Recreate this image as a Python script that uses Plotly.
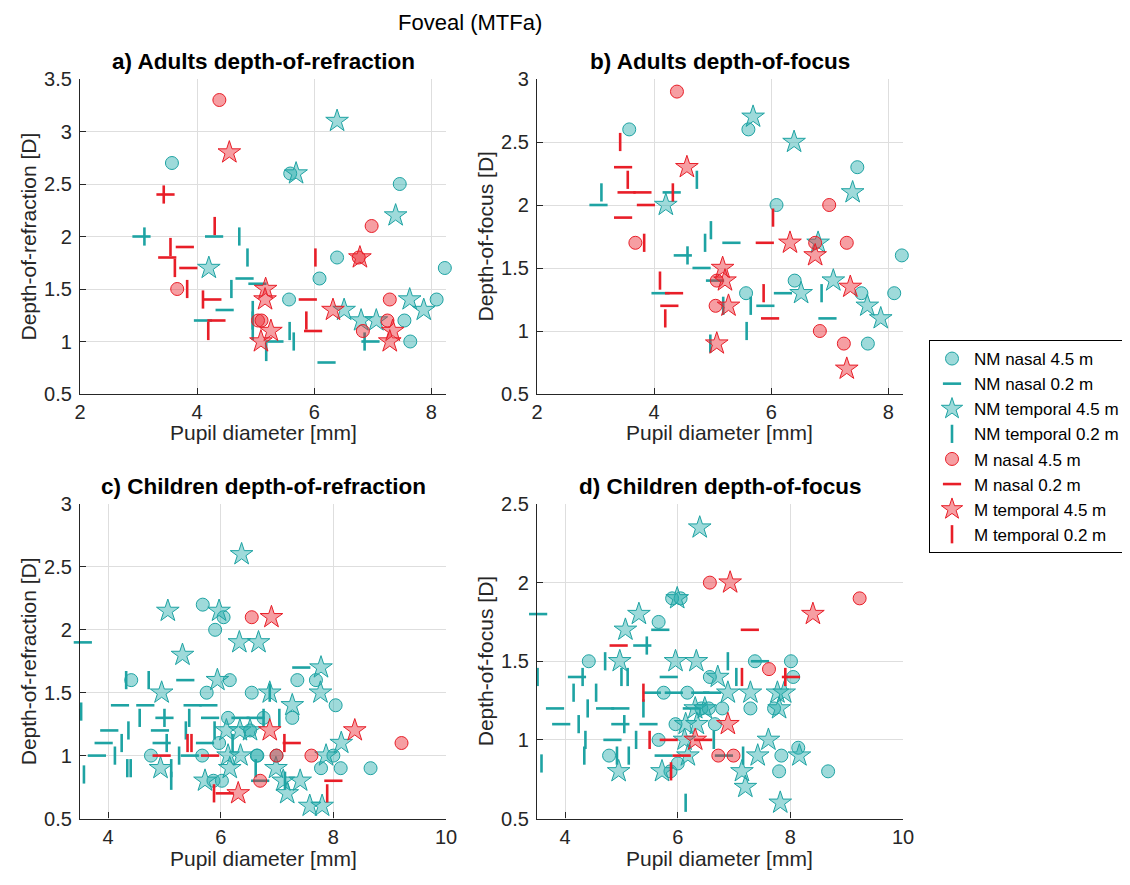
import plotly.graph_objects as go

# ---------------- data (x = pupil diameter [mm], y = depth [D]) ----------------
# Panel a) Adults depth-of-refraction
A_NM_NAS45 = [(3.57, 2.7), (5.59, 2.6), (7.46, 2.5), (6.39, 1.8), (6.09, 1.6), (8.23, 1.7),
              (5.57, 1.4), (8.09, 1.4), (7.54, 1.2), (7.64, 1.0)]
A_NM_NAS02 = [(3.05, 2.0), (4.29, 2.0), (4.81, 1.6), (5.03, 1.55), (4.47, 1.3), (4.10, 1.2),
              (5.32, 1.0), (6.21, 0.8), (6.96, 1.0)]
A_NM_TEM45 = [(6.39, 3.1), (5.69, 2.6), (7.39, 2.2), (4.20, 1.7), (6.51, 1.3), (7.63, 1.4),
              (7.87, 1.3), (6.80, 1.2), (7.06, 1.2)]
A_NM_TEM02 = [(3.10, 2.0), (4.72, 2.0), (4.86, 1.8), (4.585, 1.5), (4.95, 1.3), (4.95, 1.2),
              (4.95, 1.1), (5.18, 0.9), (5.58, 1.1), (5.65, 1.0), (6.86, 1.0)]
A_M_NAS45 = [(4.38, 3.3), (3.66, 1.5), (5.04, 1.2), (5.10, 1.2), (6.98, 2.1), (6.76, 1.8),
             (7.29, 1.4), (7.25, 1.2), (6.83, 1.1)]
A_M_NAS02 = [(3.46, 2.4), (3.79, 1.9), (3.49, 1.8), (3.85, 1.7), (4.26, 1.4), (4.33, 1.2),
             (5.89, 1.4), (5.98, 1.1)]
A_M_TEM45 = [(4.55, 2.8), (6.78, 1.8), (5.17, 1.5), (5.16, 1.4), (6.32, 1.3), (5.26, 1.1),
             (5.09, 1.0), (7.34, 1.1), (7.29, 1.0)]
A_M_TEM02 = [(3.43, 2.4), (4.30, 2.1), (3.545, 1.9), (3.62, 1.7), (3.83, 1.5), (4.10, 1.4),
             (4.19, 1.1), (6.02, 1.8), (5.865, 1.2)]

# Panel b) Adults depth-of-focus
B_NM_NAS45 = [(3.575, 2.6), (5.61, 2.6), (7.47, 2.3), (6.09, 2.0), (8.23, 1.6), (6.40, 1.4),
              (7.54, 1.3), (5.57, 1.3), (8.10, 1.3), (7.65, 0.9)]
B_NM_NAS02 = [(3.05, 2.0), (4.30, 2.1), (4.49, 1.6), (4.81, 1.5), (5.04, 1.4), (4.11, 1.3),
              (5.32, 1.7), (6.20, 1.3), (5.90, 1.2), (6.96, 1.1)]
B_NM_TEM45 = [(4.20, 2.0), (5.69, 2.7), (6.39, 2.5), (7.39, 2.1), (6.80, 1.7), (7.06, 1.4),
              (6.51, 1.3), (7.64, 1.2), (7.87, 1.1)]
B_NM_TEM02 = [(3.10, 2.1), (4.73, 2.2), (4.97, 1.8), (4.87, 1.7), (4.57, 1.6), (4.96, 0.9),
              (6.86, 1.3), (5.65, 1.2), (5.18, 1.2), (5.58, 1.0)]
B_M_NAS45 = [(4.39, 2.9), (3.68, 1.7), (5.07, 1.4), (5.05, 1.2), (6.99, 2.0), (6.75, 1.7),
             (7.29, 1.7), (6.83, 1.0), (7.24, 0.9)]
B_M_NAS02 = [(3.47, 2.3), (3.53, 2.1), (3.80, 2.1), (3.86, 2.0), (3.47, 1.9), (4.34, 1.3),
             (4.26, 1.2), (5.89, 1.7), (5.98, 1.1)]
B_M_TEM45 = [(4.56, 2.3), (5.07, 0.9), (6.32, 1.7), (6.75, 1.6), (5.17, 1.5), (5.21, 1.4),
             (7.35, 1.35), (5.27, 1.2), (7.29, 0.7)]
B_M_TEM02 = [(3.42, 2.5), (3.55, 2.2), (4.32, 2.1), (3.83, 1.7), (4.10, 1.4), (4.19, 1.1),
             (6.03, 1.9), (5.87, 1.3)]

# Panel c) Children depth-of-refraction
C_NM_NAS45 = [(5.68, 2.2), (6.05, 2.1), (5.90, 2.0), (4.41, 1.6), (6.16, 1.6), (5.75, 1.5),
              (6.55, 1.5), (6.13, 1.3), (6.52, 1.2), (5.97, 1.1), (4.76, 1.0), (5.67, 1.0),
              (6.64, 1.0), (5.87, 0.8), (6.02, 0.8), (7.36, 1.6), (7.69, 1.6), (8.04, 1.4),
              (7.27, 1.3), (6.76, 1.3), (6.65, 1.0), (6.99, 1.0), (8.00, 1.0), (7.78, 0.9),
              (8.13, 0.9), (8.66, 0.9)]
C_NM_NAS02 = [(3.55, 1.9), (5.37, 1.6), (4.21, 1.4), (4.66, 1.4), (5.50, 1.4), (5.78, 1.4),
              (5.00, 1.3), (5.81, 1.3), (6.35, 1.3), (6.62, 1.3), (4.02, 1.2), (4.92, 1.2),
              (3.92, 1.1), (4.95, 1.1), (5.72, 1.1), (3.80, 1.0), (5.45, 1.0), (6.70, 0.8),
              (7.43, 1.7)]
C_NM_TEM45 = [(6.37, 2.6), (5.06, 2.15), (5.97, 2.15), (6.33, 1.9), (6.67, 1.9), (5.32, 1.8),
              (5.94, 1.6), (4.95, 1.5), (6.10, 1.2), (6.34, 1.2), (6.52, 1.2), (6.13, 1.0),
              (6.35, 1.0), (4.93, 0.9), (6.16, 0.9), (5.72, 0.8), (7.78, 1.7), (7.77, 1.5),
              (6.87, 1.5), (7.27, 1.4), (8.14, 1.1), (7.87, 1.0), (6.98, 0.9), (7.11, 0.8),
              (7.41, 0.8), (7.18, 0.7), (7.58, 0.6), (7.80, 0.6)]
C_NM_TEM02 = [(4.32, 1.6), (4.72, 1.6), (3.52, 1.35), (4.56, 1.3), (5.00, 1.3), (5.44, 1.3),
              (4.36, 1.2), (5.38, 1.2), (5.89, 1.2), (4.24, 1.1), (5.04, 1.1), (6.21, 1.1),
              (4.12, 1.0), (5.26, 1.0), (3.57, 0.85), (4.34, 0.9), (4.40, 0.9), (5.12, 0.9),
              (5.12, 0.8), (6.62, 0.9), (6.87, 1.5), (7.04, 1.3), (6.76, 1.3), (7.14, 0.8)]
C_M_NAS45 = [(6.55, 2.1), (6.70, 0.8), (6.99, 1.0), (7.61, 1.0), (9.21, 1.1)]
C_M_NAS02 = [(4.95, 1.0), (5.81, 1.0), (6.07, 0.7), (7.26, 1.1), (8.00, 0.8)]
C_M_TEM45 = [(6.31, 0.7), (6.90, 2.1), (6.87, 1.2), (8.38, 1.2)]
C_M_TEM02 = [(5.41, 1.1), (5.48, 1.1), (5.88, 0.7), (7.13, 1.1), (7.89, 0.7)]

# Panel d) Children depth-of-focus
D_NM_NAS45 = [(5.90, 1.9), (6.05, 1.9), (5.66, 1.75), (4.42, 1.5), (5.75, 1.3), (6.17, 1.3),
              (5.96, 1.1), (5.66, 1.0), (4.78, 0.9), (5.87, 0.8), (6.00, 0.85), (6.42, 1.2),
              (6.55, 1.2), (7.37, 1.5), (8.01, 1.5), (6.57, 1.4), (8.05, 1.4), (6.79, 1.2),
              (7.29, 1.2), (7.71, 1.2), (6.66, 1.1), (7.84, 0.9), (8.14, 0.95), (7.80, 0.8),
              (8.67, 0.8)]
D_NM_NAS02 = [(3.52, 1.8), (5.69, 1.7), (5.37, 1.6), (4.21, 1.4), (5.84, 1.4), (5.54, 1.3),
              (5.93, 1.3), (3.82, 1.2), (4.71, 1.2), (4.98, 1.2), (3.93, 1.1), (4.98, 1.1),
              (5.48, 1.1), (4.84, 1.0), (5.75, 0.9), (7.46, 1.5), (6.61, 1.3), (6.40, 1.3),
              (6.82, 0.9), (6.25, 1.2)]
D_NM_TEM45 = [(6.39, 2.35), (5.99, 1.9), (5.31, 1.8), (5.07, 1.7), (4.97, 1.5), (5.96, 1.5),
              (6.33, 1.5), (6.31, 1.2), (6.14, 1.1), (6.34, 1.1), (6.12, 1.0), (6.18, 0.9),
              (4.95, 0.8), (5.72, 0.8), (6.71, 1.4), (6.89, 1.3), (7.29, 1.3), (7.77, 1.3),
              (7.89, 1.3), (6.48, 1.2), (7.80, 1.2), (7.61, 1.0), (7.42, 0.9), (8.16, 0.9),
              (7.14, 0.8), (7.20, 0.7), (7.82, 0.6)]
D_NM_TEM02 = [(5.45, 1.6), (4.71, 1.5), (3.51, 1.4), (4.31, 1.4), (5.00, 1.4), (5.11, 1.4),
              (4.15, 1.3), (4.55, 1.3), (4.40, 1.2), (5.39, 1.2), (4.24, 1.1), (5.05, 1.1),
              (4.36, 1.0), (5.26, 1.0), (4.34, 0.9), (4.92, 0.9), (5.13, 0.9), (3.58, 0.85),
              (6.14, 0.6), (6.89, 1.5), (7.04, 1.4), (6.64, 1.0), (7.16, 0.9)]
D_M_NAS45 = [(6.57, 2.0), (9.23, 1.9), (7.62, 1.45), (6.72, 0.9), (6.99, 0.9)]
D_M_NAS02 = [(4.95, 1.6), (7.28, 1.7), (8.01, 1.4), (5.84, 1.0), (6.07, 0.9), (6.45, 1.0)]
D_M_TEM45 = [(6.93, 2.0), (8.40, 1.8), (6.89, 1.1), (6.31, 1.0)]
D_M_TEM02 = [(5.39, 1.3), (5.50, 1.0), (5.88, 0.8), (7.14, 1.4), (7.91, 1.4)]

SERIES_NAMES = ["NM nasal 4.5 m", "NM nasal 0.2 m", "NM temporal 4.5 m", "NM temporal 0.2 m",
                "M nasal 4.5 m", "M nasal 0.2 m", "M temporal 4.5 m", "M temporal 0.2 m"]
PANELS = [
    [A_NM_NAS45, A_NM_NAS02, A_NM_TEM45, A_NM_TEM02, A_M_NAS45, A_M_NAS02, A_M_TEM45, A_M_TEM02],
    [B_NM_NAS45, B_NM_NAS02, B_NM_TEM45, B_NM_TEM02, B_M_NAS45, B_M_NAS02, B_M_TEM45, B_M_TEM02],
    [C_NM_NAS45, C_NM_NAS02, C_NM_TEM45, C_NM_TEM02, C_M_NAS45, C_M_NAS02, C_M_TEM45, C_M_TEM02],
    [D_NM_NAS45, D_NM_NAS02, D_NM_TEM45, D_NM_TEM02, D_M_NAS45, D_M_NAS02, D_M_TEM45, D_M_TEM02],
]
PANEL_TITLES = ["a) Adults depth-of-refraction", "b) Adults depth-of-focus",
                "c) Children depth-of-refraction", "d) Children depth-of-focus"]
X_TITLE = "Pupil diameter [mm]"
Y_TITLES = ["Depth-of-refraction [D]", "Depth-of-focus [D]",
            "Depth-of-refraction [D]", "Depth-of-focus [D]"]
X_RANGES = [[2, 8.25], [2, 8.25], [3.5, 10], [3.5, 10]]
X_TICKS = [[2, 4, 6, 8], [2, 4, 6, 8], [4, 6, 8, 10], [4, 6, 8, 10]]
Y_RANGES = [[0.5, 3.5], [0.5, 3.0], [0.5, 3.0], [0.5, 2.5]]
Y_TICKS = [[0.5, 1, 1.5, 2, 2.5, 3, 3.5], [0.5, 1, 1.5, 2, 2.5, 3],
           [0.5, 1, 1.5, 2, 2.5, 3], [0.5, 1, 1.5, 2, 2.5]]

# ---------------- styles ----------------
CY_EDGE = "rgb(30,163,163)"
CY_FILL = "rgba(40,172,172,0.45)"
RD_EDGE = "rgb(232,30,40)"
RD_FILL = "rgba(236,40,48,0.45)"
FONT = "Liberation Sans, Arial, Helvetica, sans-serif"
TXT = "#262626"

def marker_for(i):
    edge = CY_EDGE if i < 4 else RD_EDGE
    fill = CY_FILL if i < 4 else RD_FILL
    kind = i % 4
    if kind == 0:
        return dict(symbol="circle", size=13, color=fill, line=dict(color=edge, width=1))
    if kind == 2:
        return dict(symbol="star", size=17, color=fill, line=dict(color=edge, width=1))
    sym = "line-ew" if kind == 1 else "line-ns"
    return dict(symbol=sym, size=13, color=edge, line=dict(color=edge, width=2.6))

# page body has an 8 px margin: figure is placed at (8, 8) in the window
OFF = 8
W, H = 1122, 869

def fx(px):
    return (px - OFF) / W

def fy(py):
    return 1 - (py - OFF) / H

fig = go.Figure()

px_dom = [((80, 446), (79, 394)), ((537, 903), (79, 394)),
          ((80, 446), (504, 818.5)), ((537, 903), (504, 818.5))]
xtitle_y = [432, 432, 858, 858]
ytitle_x = [28, 485, 28, 485]

for p in range(4):
    ax = "" if p == 0 else str(p + 1)
    for i, pts in enumerate(PANELS[p]):
        fig.add_trace(go.Scatter(
            x=[q[0] for q in pts], y=[q[1] for q in pts], mode="markers",
            name=SERIES_NAMES[i], legendgroup=SERIES_NAMES[i], showlegend=(p == 0),
            marker=marker_for(i), xaxis="x" + ax, yaxis="y" + ax, cliponaxis=False))
    (x0, x1), (y0, y1) = px_dom[p]
    common = dict(showgrid=True, gridcolor="#dedede", gridwidth=1, zeroline=False,
                  showline=True, linecolor=TXT, linewidth=1.3, ticks="inside",
                  ticklen=6, tickcolor=TXT, mirror=False, automargin=False,
                  tickfont=dict(family=FONT, size=20, color=TXT))
    fig.layout["xaxis" + ax] = dict(
        common, domain=[fx(x0), fx(x1)], range=X_RANGES[p], tickvals=X_TICKS[p],
        ticktext=[str(v) for v in X_TICKS[p]], anchor="y" + ax, ticklabelstandoff=0)
    fig.layout["yaxis" + ax] = dict(
        common, domain=[fy(y1), fy(y0)], range=Y_RANGES[p], tickvals=Y_TICKS[p],
        ticktext=[("%g" % v) for v in Y_TICKS[p]], anchor="x" + ax, ticklabelstandoff=3)
    fig.add_annotation(text="<b>" + PANEL_TITLES[p] + "</b>", xref="paper", yref="paper",
                       x=fx((x0 + x1) / 2), y=fy(y0 - 3), xanchor="center", yanchor="bottom",
                       showarrow=False, font=dict(family=FONT, size=22.5, color="black"))
    fig.add_annotation(text=X_TITLE, xref="paper", yref="paper",
                       x=fx((x0 + x1) / 2), y=fy(xtitle_y[p]), xanchor="center", yanchor="middle",
                       showarrow=False, font=dict(family=FONT, size=21, color=TXT))
    fig.add_annotation(text=Y_TITLES[p], xref="paper", yref="paper", textangle=-90,
                       x=fx(ytitle_x[p]), y=fy((y0 + y1) / 2), xanchor="center", yanchor="middle",
                       showarrow=False, font=dict(family=FONT, size=21, color=TXT))

fig.add_annotation(text="Foveal (MTFa)", xref="paper", yref="paper", x=fx(470), y=fy(8),
                   xanchor="center", yanchor="top", showarrow=False,
                   font=dict(family=FONT, size=22, color="black"))

fig.update_layout(
    width=W, height=H, margin=dict(l=0, r=0, t=0, b=0, autoexpand=False),
    paper_bgcolor="white", plot_bgcolor="white",
    legend=dict(x=fx(929), y=fy(340), xanchor="left", yanchor="top",
                bordercolor="black", borderwidth=1, bgcolor="white",
                font=dict(family=FONT, size=17, color="black"), tracegroupgap=0,
                itemwidth=34),
)

fig.write_html("out.html")
